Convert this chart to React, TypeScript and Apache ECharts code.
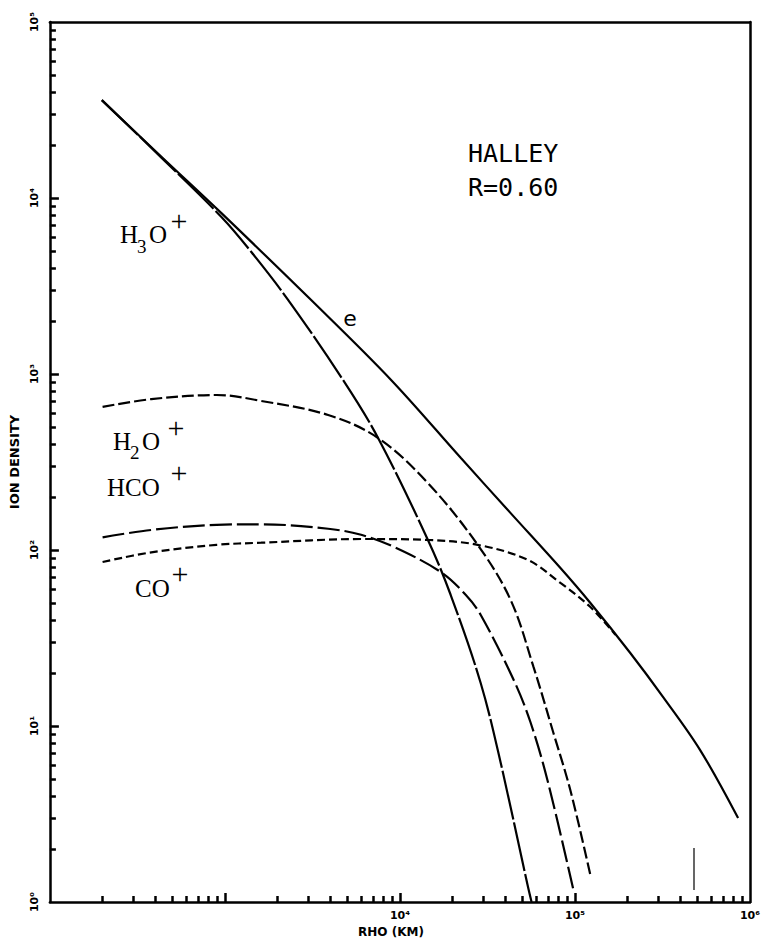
import React, { useEffect, useRef } from "react";
import * as echarts from "echarts";

// RHO (km) vs ion density (cm^-3)
const electron: [number, number][] = [
  [198, 36000], [435, 17100], [955, 8200], [3110, 2630], [8900, 925], [22300, 333],
  [42900, 162], [82600, 79], [122500, 50], [207000, 26], [319000, 14.6], [519000, 7.3], [855000, 3.0],
];
const h3o: [number, number][] = [
  [198, 36000], [435, 16900], [955, 7800], [1416, 4930], [2300, 2630], [4730, 925],
  [7500, 433], [14450, 114], [19500, 55.5], [28950, 17.5], [37600, 6.2], [53600, 1.25], [56500, 1.0],
];
const h2o: [number, number][] = [
  [200, 650], [380, 720], [895, 760], [1610, 703], [3890, 585], [7500, 433], [14450, 240],
  [27800, 107], [42900, 52], [58000, 21.6], [75400, 9.1], [94200, 4.3], [122500, 1.42],
];
const hco: [number, number][] = [
  [200, 118], [380, 130], [895, 139], [1610, 140], [3890, 132], [6000, 122], [9250, 104],
  [17100, 75], [23800, 55.5], [28950, 42.7], [44600, 18.3], [55700, 10.5], [69700, 4.9], [98000, 1.17],
];
const co: [number, number][] = [
  [200, 85.5], [380, 97], [895, 107], [1610, 110], [6000, 115.5], [14450, 114], [27800, 107],
  [53600, 88], [82600, 65], [122500, 47.4], [170000, 33],
];

const xDecades = [100, 1000, 10000, 100000, 1000000];
const xDecadeLabels = ["", "", "10⁴", "10⁵", "10⁶"];
const yDecades = [1, 10, 100, 1000, 10000, 100000];
const yDecadeLabels = ["10⁰", "10¹", "10²", "10³", "10⁴", "10⁵"];
const minorMultipliers = [2, 3, 4, 5, 6, 7, 8, 9];

function minorList(decades: number[]): number[] {
  const out: number[] = [];
  decades.slice(0, -1).forEach((d) => minorMultipliers.forEach((m) => out.push(d * m)));
  return out;
}

function labelFor(v: number, decades: number[], labels: string[]) {
  const i = decades.findIndex((d) => Math.abs(Math.log10(d) - Math.log10(v)) < 1e-6);
  return i >= 0 ? labels[i] : "";
}

export default function App() {
  const ref = useRef<HTMLDivElement>(null);
  useEffect(() => {
    document.body.style.margin = "0";
    const chart = echarts.init(ref.current!, null, { renderer: "svg" });
    const curve = (name: string, data: [number, number][], dash: any) => ({
      type: "line",
      name,
      data,
      symbol: "none",
      showSymbol: false,
      smooth: 0.35,
      silent: true,
      lineStyle: { color: "#000", width: 2.2, type: dash },
    });
    const serif = "Liberation Serif";
    const t = (text: string, x: number, y: number, size: number, font = serif, align = "left") => ({
      type: "text",
      x,
      y,
      style: { text, fontSize: size, fontFamily: font, fill: "#000", align, verticalAlign: "middle" },
    });
    const lbl = { color: "#000", fontFamily: "DejaVu Sans", fontWeight: "bold", fontSize: 11 };
    const frameLine = { show: true, onZero: false, lineStyle: { color: "#000", width: 2.5 } };
    const noLabel = { show: false };
    const xBase = { type: "log", logBase: 10, min: 100, max: 1000000, splitLine: { show: false }, minorTick: { show: false } };
    const yBase = { type: "log", logBase: 10, min: 1, max: 100000, splitLine: { show: false }, minorTick: { show: false } };
    const ticks = (values: number[], len: number) => ({
      show: true,
      inside: true,
      length: len,
      lineStyle: { color: "#000", width: 2.5 },
      customValues: values,
    });
    chart.setOption({
      animation: false,
      backgroundColor: "#fff",
      grid: { left: 48, right: 17, top: 22, bottom: 42, show: false },
      xAxis: [
        {
          ...xBase,
          position: "bottom",
          axisLine: frameLine,
          axisTick: ticks(minorList(xDecades), 6),
          axisLabel: { ...lbl, margin: 8, formatter: (v: number) => labelFor(v, xDecades, xDecadeLabels) },
          name: "RHO (KM)",
          nameLocation: "middle",
          nameGap: 24,
          nameTextStyle: { color: "#000", fontFamily: "DejaVu Sans", fontWeight: "bold", fontSize: 12, padding: [0, 18, 0, 0] },
        },
        { ...xBase, position: "bottom", axisLine: { show: false }, axisTick: ticks(xDecades.slice(1, -1), 9), axisLabel: noLabel },
        { ...xBase, position: "top", axisLine: frameLine, axisTick: { show: false }, axisLabel: noLabel },
      ],
      yAxis: [
        {
          ...yBase,
          position: "left",
          axisLine: frameLine,
          axisTick: ticks(minorList(yDecades), 6),
          axisLabel: { ...lbl, rotate: 90, margin: 10, formatter: (v: number) => labelFor(v, yDecades, yDecadeLabels) },
          name: "ION DENSITY",
          nameLocation: "middle",
          nameGap: 16,
          nameRotate: 90,
          nameTextStyle: { color: "#000", fontFamily: "DejaVu Sans", fontWeight: "bold", fontSize: 13 },
        },
        { ...yBase, position: "left", axisLine: { show: false }, axisTick: ticks(yDecades.slice(1, -1), 9), axisLabel: noLabel },
        { ...yBase, position: "right", axisLine: frameLine, axisTick: { show: false }, axisLabel: noLabel },
      ],
      series: [
        curve("e", electron, "solid"),
        curve("H3O+", h3o, [50, 3]),
        curve("H2O+", h2o, [12, 4]),
        curve("HCO+", hco, [22, 5]),
        curve("CO+", co, [8, 4]),
      ],
      graphic: [
        t("H", 120, 234, 25),
        t("3", 137, 246, 19),
        t("O", 149, 234, 25),
        t("+", 179, 220, 30, serif, "center"),
        t("H", 113, 441, 25),
        t("2", 130, 452, 19),
        t("O", 142, 441, 25),
        t("+", 176, 427, 30, serif, "center"),
        t("HCO", 107, 487, 25),
        t("+", 179, 472, 30, serif, "center"),
        t("CO", 135, 588, 25),
        t("+", 180, 573, 30, serif, "center"),
        t("e", 350, 318, 22, "DejaVu Sans", "center"),
        t("HALLEY", 468, 153, 25, "DejaVu Sans Mono"),
        t("R=0.60", 468, 187, 25, "DejaVu Sans Mono"),
        { type: "line", shape: { x1: 694, y1: 848, x2: 694, y2: 890 }, style: { stroke: "#000", lineWidth: 1.2 } },
      ],
    });
    return () => chart.dispose();
  }, []);
  return <div ref={ref} style={{ width: 767, height: 944 }} />;
}
